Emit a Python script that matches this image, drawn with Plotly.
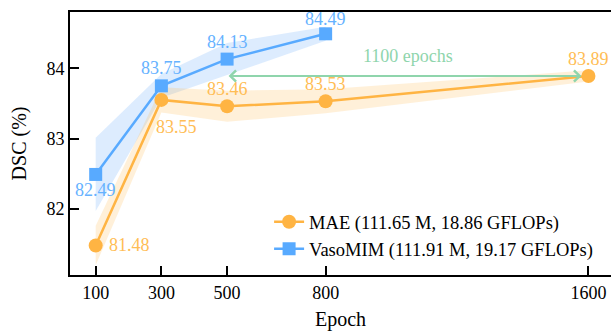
import plotly.graph_objects as go

# ---- data ----
epochs_mae = [100, 300, 500, 800, 1600]
dsc_mae = [81.48, 83.55, 83.46, 83.53, 83.89]
std_mae = [0.28, 0.18, 0.22, 0.17, 0.08]

epochs_vaso = [100, 300, 500, 800]
dsc_vaso = [82.49, 83.75, 84.13, 84.49]
std_vaso = [0.52, 0.17, 0.23, 0.10]

x_ticks = [100, 300, 500, 800, 1600]
y_ticks = [82, 83, 84]

name_mae = "MAE (111.65 M, 18.86 GFLOPs)"
name_vaso = "VasoMIM (111.91 M, 19.17 GFLOPs)"
arrow_from, arrow_to, arrow_level = 500, 1600, 83.89
arrow_text = "1100 epochs"

# ---- styles ----
FONT = "Liberation Serif, Times New Roman, serif"
C_MAE = "#FFB443"
C_MAE_TXT = "#FFBD55"
C_MAE_FILL = "rgba(255,186,80,0.22)"
C_VASO = "#58AAFF"
C_VASO_TXT = "#66B2FF"
C_VASO_FILL = "rgba(100,170,250,0.22)"
C_ARROW = "#8FD5AC"

# label placement per point: (xshift, yshift, xanchor)
pos_mae = [(11, 0, "left"), (15, -27, "center"), (0, 17, "center"), (0, 17, "center"), (0, 17, "center")]
pos_vaso = [(0, -16, "center"), (0, 18, "center"), (0, 17, "center"), (0, 15, "center")]

fig = go.Figure()

def band(xs, ys, sd, fill):
    up = [y + s for y, s in zip(ys, sd)]
    lo = [y - s for y, s in zip(ys, sd)]
    fig.add_trace(go.Scatter(x=xs + xs[::-1], y=up + lo[::-1], fill="toself",
                             fillcolor=fill, line=dict(width=0), mode="lines",
                             hoverinfo="skip", showlegend=False))

band(epochs_vaso, dsc_vaso, std_vaso, C_VASO_FILL)
band(epochs_mae, dsc_mae, std_mae, C_MAE_FILL)

fig.add_trace(go.Scatter(x=epochs_mae, y=dsc_mae, name=name_mae, mode="lines+markers",
                         line=dict(color=C_MAE, width=2.5),
                         marker=dict(symbol="circle", size=14, color=C_MAE)))
fig.add_trace(go.Scatter(x=epochs_vaso, y=dsc_vaso, name=name_vaso, mode="lines+markers",
                         line=dict(color=C_VASO, width=2.5),
                         marker=dict(symbol="square", size=13, color=C_VASO)))

annotations = []
for xs, ys, pos, col in [(epochs_mae, dsc_mae, pos_mae, C_MAE_TXT),
                         (epochs_vaso, dsc_vaso, pos_vaso, C_VASO_TXT)]:
    for x, y, (dx, dy, xa) in zip(xs, ys, pos):
        annotations.append(dict(x=x, y=y, xref="x", yref="y", text=f"{y:.2f}",
                                showarrow=False, xshift=dx, yshift=dy, xanchor=xa,
                                yanchor="middle",
                                font=dict(family=FONT, size=18, color=col)))

# double-headed arrow
annotations.append(dict(x=arrow_to, y=arrow_level, ax=arrow_from, ay=arrow_level,
                        xref="x", yref="y", axref="x", ayref="y", text="",
                        showarrow=True, arrowhead=4, startarrowhead=4,
                        arrowside="end+start", arrowsize=1.1, startarrowsize=1.1,
                        arrowwidth=2, arrowcolor=C_ARROW, standoff=7, startstandoff=0))
annotations.append(dict(x=(arrow_from + arrow_to) / 2, y=84.18, xref="x", yref="y",
                        text=arrow_text, showarrow=False,
                        font=dict(family=FONT, size=18, color=C_ARROW)))

fig.update_layout(
    width=611, height=331,
    margin=dict(l=70, r=0, t=12, b=56),
    plot_bgcolor="white", paper_bgcolor="white",
    font=dict(family=FONT, size=18, color="black"),
    annotations=annotations,
    legend=dict(x=0.368, y=0.273, xanchor="left", yanchor="top",
                bgcolor="rgba(0,0,0,0)", font=dict(family=FONT, size=18.5),
                tracegroupgap=0),
    xaxis=dict(range=[21.8, 1668.7], tickvals=x_ticks, showgrid=False, zeroline=False,
               showline=True, linecolor="black", linewidth=2, mirror=True,
               ticks="inside", ticklen=9, tickwidth=1.5, tickcolor="black",
               title=dict(text="Epoch", font=dict(family=FONT, size=20), standoff=11),
               tickfont=dict(family=FONT, size=18)),
    yaxis=dict(range=[81.06, 84.80], tickvals=y_ticks, showgrid=False, zeroline=False,
               showline=True, linecolor="black", linewidth=2,
               ticks="inside", ticklen=9, tickwidth=1.5, tickcolor="black",
               title=dict(text="DSC (%)", font=dict(family=FONT, size=20), standoff=14),
               tickfont=dict(family=FONT, size=18)),
)

# remove the page body's default margin so the figure fills the window exactly
fig.write_html("out.html",
               config={"displayModeBar": False},
               post_script="document.body.style.margin='0';"
                           "document.documentElement.style.overflow='hidden';")
